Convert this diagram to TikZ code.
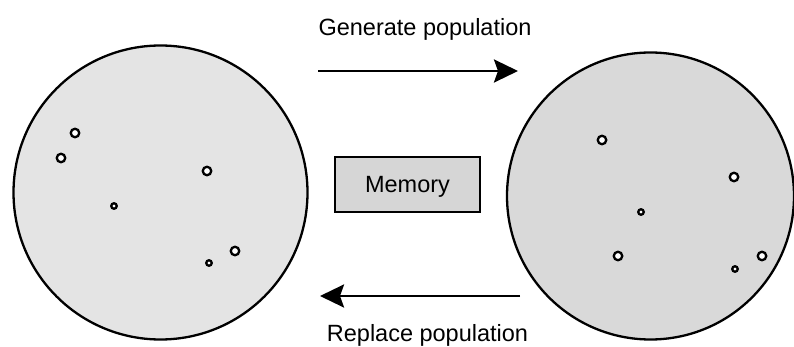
\documentclass[tikz,border=0pt]{standalone}
\usepackage{fontspec}
\setmainfont{Liberation Sans}
\usetikzlibrary{arrows.meta}
\definecolor{poolA}{HTML}{E4E4E4}
\definecolor{poolB}{HTML}{D9D9D9}
\definecolor{memfill}{HTML}{D6D6D6}
\begin{document}
\begin{tikzpicture}[x=1pt,y=-1pt,
  pool/.style={circle,draw=black,line width=2.3pt,inner sep=0pt},
  indiv/.style={circle,draw=black,fill=white,line width=2.3pt,inner sep=0pt,minimum size=8.5pt},
  smallindiv/.style={circle,draw=black,fill=white,line width=2.3pt,inner sep=0pt,minimum size=5.5pt},
  flow/.style={line width=2.8pt,-{Stealth[length=24pt,width=23pt,inset=4pt]}},
  lbl/.style={font=\fontsize{23.5}{28}\selectfont,anchor=base,inner sep=0pt}]
\useasboundingbox (0,0) rectangle (794,347);
% the two populations
\node[pool,fill=poolA,minimum size=294pt] (old) at (160.5,192.5) {};
\node[pool,fill=poolB,minimum size=287pt] (new) at (650.5,196) {};
% individuals of the current population
\node[indiv] (a1) at (75,133) {};
\node[indiv] (a2) at (61,158) {};
\node[indiv] (a3) at (207,171) {};
\node[smallindiv] (a4) at (114,206) {};
\node[indiv] (a5) at (235,251) {};
\node[smallindiv] (a6) at (209,263) {};
% individuals of the generated population
\node[indiv] (b1) at (602,140) {};
\node[indiv] (b2) at (734,177) {};
\node[smallindiv] (b3) at (641,212) {};
\node[indiv] (b4) at (618,256) {};
\node[indiv] (b5) at (762,256) {};
\node[smallindiv] (b6) at (735,269) {};
% memory block
\node[draw=black,fill=memfill,line width=2.3pt,minimum width=145pt,minimum height=55pt,inner sep=0pt] (mem) at (407.5,184.5) {};
\node[lbl] (memtxt) at (407.5,193) {Memory};
% generation / replacement arrows
\coordinate (g0) at (318,71);
\coordinate (g1) at (518,71);
\coordinate (r0) at (520,296);
\coordinate (r1) at (320,296);
\draw[flow] (g0) -- (g1);
\draw[flow] (r0) -- (r1);
\node[lbl] (gen) at (425,36) {Generate population};
\node[lbl] (rep) at (427.5,341) {Replace population};
\end{tikzpicture}
\end{document}
